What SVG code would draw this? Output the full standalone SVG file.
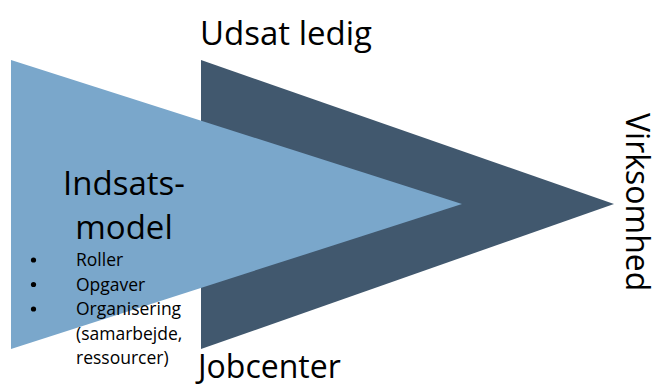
<svg xmlns="http://www.w3.org/2000/svg" width="660" height="389" viewBox="0 0 660 389">
<style>
text{font-family:"Open Sans","Noto Sans",sans-serif;fill:#000}
.big{font-size:33px}
.small{font-size:17.5px}
.dot{fill:#000}
</style>
<rect width="660" height="389" fill="#fff"/>
<g id="dark-arrow"><polygon points="201,60 614,204 201,349" fill="#41586E"/></g>
<g id="light-arrow"><polygon points="11,60 462,204 11,349" fill="#7AA7CB"/></g>
<g id="udsat-ledig"><text class="big" x="200" y="45">Udsat ledig</text></g>
<g id="jobcenter"><text class="big" x="198" y="378" style="font-size:32px">Jobcenter</text></g>
<g id="virksomhed"><text class="big" transform="translate(626,113) rotate(90)" style="font-size:32px">Virksomhed</text></g>
<g id="indsatsmodel">
<text class="big" x="124" y="195" text-anchor="middle">Indsats-</text>
<text class="big" x="124" y="239" text-anchor="middle">model</text>
<circle class="dot" cx="33.5" cy="260" r="2.6"/>
<text class="small" x="76" y="266">Roller</text>
<circle class="dot" cx="33.5" cy="284.5" r="2.6"/>
<text class="small" x="76" y="290.5">Opgaver</text>
<circle class="dot" cx="33.5" cy="309" r="2.6"/>
<text class="small" x="76" y="315">Organisering</text>
<text class="small" x="76" y="339.5">(samarbejde,</text>
<text class="small" x="76" y="364">ressourcer)</text>
</g>
<g id="connectors"/>
</svg>
